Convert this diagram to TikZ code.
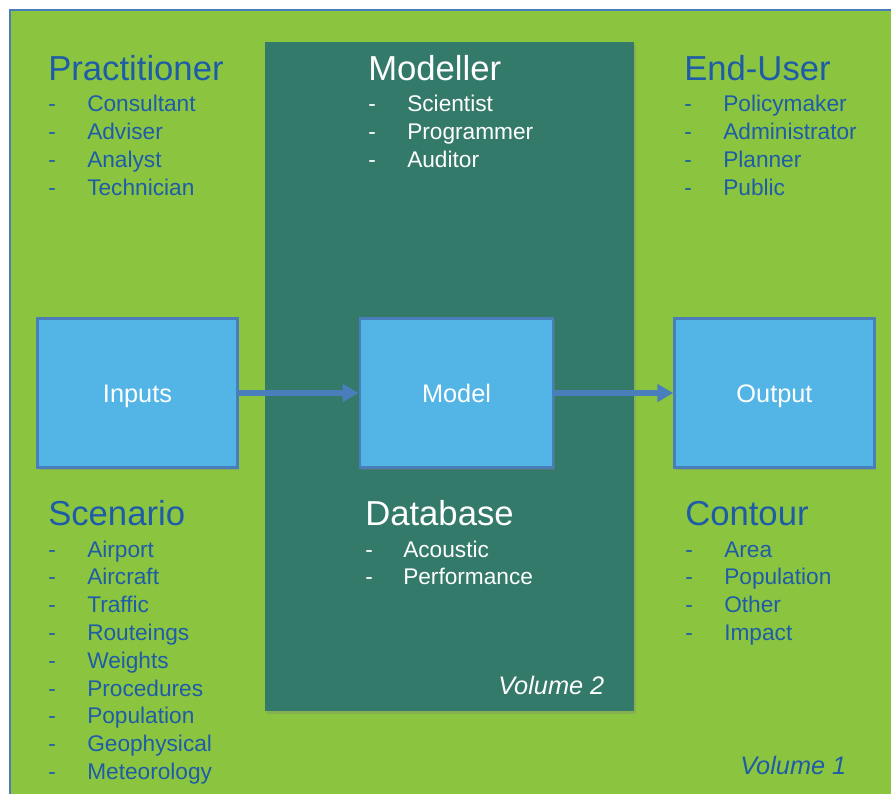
\documentclass[tikz,border=0pt]{standalone}
\usepackage{fontspec}
\setmainfont{Liberation Sans}
\usetikzlibrary{arrows.meta,shadows}

\definecolor{panelgreen}{RGB}{139,197,63}
\definecolor{panelteal}{RGB}{52,122,106}
\definecolor{boxblue}{RGB}{82,181,230}
\definecolor{edgeblue}{RGB}{74,126,187}
\definecolor{textblue}{RGB}{30,92,168}

\tikzset{
  heading/.style={anchor=base west,inner sep=0pt,font=\fontsize{26}{30}\selectfont},
  item/.style={anchor=base west,inner sep=0pt,font=\fontsize{17}{20}\selectfont},
  volume/.style={anchor=base west,inner sep=0pt,font=\fontsize{19}{22}\selectfont\itshape},
  stagebox/.style={draw=edgeblue,line width=1.8pt,fill=boxblue,minimum width=150pt,minimum height=112pt,text height=13.6pt,text depth=0pt,text=white,font=\fontsize{19}{22}\selectfont,drop shadow={shadow xshift=1.2pt,shadow yshift=-1.5pt,opacity=0.35}},
  flow/.style={draw=edgeblue,line width=4.2pt,-{Triangle[width=13pt,length=12pt]}}
}

\begin{document}
\begin{tikzpicture}[x=0.75pt,y=0.75pt,yscale=-1,xscale=1]
\useasboundingbox (0,0) rectangle (891,793);
\clip (0,0) rectangle (891,793);

%Shape: Rectangle [outer panel, volume 1]
\fill[white] (0,0) rectangle (891,793);
\draw[edgeblue,line width=1.8pt,fill=panelgreen] (10,10) rectangle (905,805);
%Shape: Rectangle [inner panel, volume 2]
\fill[panelteal,drop shadow={shadow xshift=1.5pt,shadow yshift=-2pt,opacity=0.3}] (265,42) rectangle (634,711);

% Text Node
\node[heading,textblue] (practitioner) at (48,80) {Practitioner};
\foreach \t [count=\i] in {Consultant,Adviser,Analyst,Technician}{
  \node[item,textblue] (practitioner-dash-\i) at (48,83+28*\i) {-};
  \node[item,textblue] (practitioner-\i) at (87,83+28*\i) {\t};
}
% Text Node
\node[heading,white] (modeller) at (368,80) {Modeller};
\foreach \t [count=\i] in {Scientist,Programmer,Auditor}{
  \node[item,white] (modeller-dash-\i) at (368,83+28*\i) {-};
  \node[item,white] (modeller-\i) at (407,83+28*\i) {\t};
}
% Text Node
\node[heading,textblue] (enduser) at (684,80) {End-User};
\foreach \t [count=\i] in {Policymaker,Administrator,Planner,Public}{
  \node[item,textblue] (enduser-dash-\i) at (684,83+28*\i) {-};
  \node[item,textblue] (enduser-\i) at (723,83+28*\i) {\t};
}

% Text Node
\node[heading,textblue] (scenario) at (48,525) {Scenario};
\foreach \t [count=\i] in {Airport,Aircraft,Traffic,Routeings,Weights,Procedures,Population,Geophysical,Meteorology}{
  \node[item,textblue] (scenario-dash-\i) at (48,529.2+27.8*\i) {-};
  \node[item,textblue] (scenario-\i) at (87,529.2+27.8*\i) {\t};
}
% Text Node
\node[heading,white] (database) at (365,525) {Database};
\foreach \t [count=\i] in {Acoustic,Performance}{
  \node[item,white] (database-dash-\i) at (365,529.2+27.8*\i) {-};
  \node[item,white] (database-\i) at (403,529.2+27.8*\i) {\t};
}
% Text Node
\node[heading,textblue] (contour) at (685,525) {Contour};
\foreach \t [count=\i] in {Area,Population,Other,Impact}{
  \node[item,textblue] (contour-dash-\i) at (685,529.2+27.8*\i) {-};
  \node[item,textblue] (contour-\i) at (724,529.2+27.8*\i) {\t};
}

% Text Node
\node[volume,white] (volume2) at (498,694) {Volume 2};
\node[volume,textblue] (volume1) at (740,774) {Volume 1};

%Shape: Rectangle [stages]
\node[stagebox] (inputs) at (137.5,393) {Inputs};
\node[stagebox,minimum width=145pt] (model) at (456.5,393) {Model};
\node[stagebox] (output) at (774.5,393) {Output};

%Straight Lines [arrows]
\draw[flow] (inputs) -- (model);
\draw[flow] (model) -- (output);

\end{tikzpicture}
\end{document}
